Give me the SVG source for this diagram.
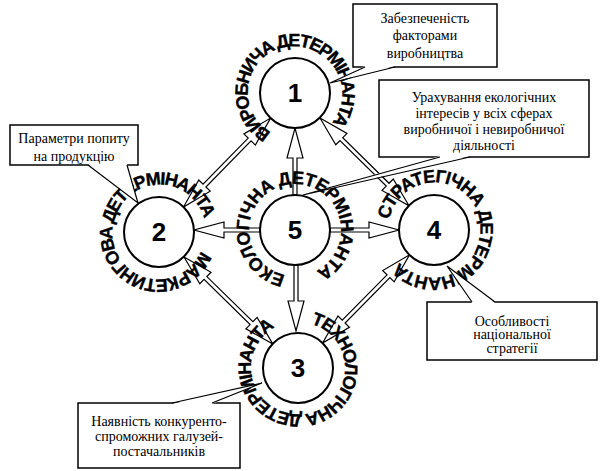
<svg xmlns="http://www.w3.org/2000/svg" width="600" height="471" viewBox="0 0 600 471">
<style>
.ar{fill:#fff;stroke:#000;stroke-width:1.2;stroke-linejoin:miter}
.c{fill:#fff;stroke:#000;stroke-width:2}
.n{font-family:"Liberation Sans",Arial,sans-serif;font-weight:bold;font-size:26px;text-anchor:middle}
.ct{font-family:"Liberation Sans",Arial,sans-serif;font-weight:bold;font-size:18px;stroke:#000;stroke-width:0.4}
.box{fill:#fff;stroke:#000;stroke-width:1.5}
.wf{fill:#fff;stroke:none}
.wl{fill:none;stroke:#000;stroke-width:1.2}
.bt{font-family:"Liberation Serif","Times New Roman",serif;font-size:14px;text-anchor:middle}
</style>
<defs>
<path id="p1" d="M271.3,132.4 A46,46 0 1 1 318.7,53.6 A46,46 0 1 1 271.3,132.4"/>
<path id="p2" d="M201,250.7 A46,46 0 1 1 117,213.3 A46,46 0 1 1 201,250.7"/>
<path id="p5" d="M285.4,275 A46,46 0 1 1 304.6,185 A46,46 0 1 1 285.4,275"/>
<path id="p4" d="M389.2,219.7 A46,46 0 1 1 478.8,240.3 A46,46 0 1 1 389.2,219.7"/>
<path id="p3" d="M310.7,323.8 A46,46 0 1 1 285.3,412.2 A46,46 0 1 1 310.7,323.8"/>
</defs>
<g id="connectors">
<polygon class="ar" transform="translate(183.5,207) rotate(-45.6)" points="0,0 30,-8 30,-2 94.5,-2 94.5,-8 124.5,0 94.5,8 94.5,2 30,2 30,8"/>
<polygon class="ar" transform="translate(320,118) rotate(44.6)" points="0,0 30,-8 30,-2 95,-2 95,-8 125,0 95,8 95,2 30,2 30,8"/>
<polygon class="ar" transform="translate(184,257) rotate(44.4)" points="0,0 30,-8 30,-2 94.5,-2 94.5,-8 124.5,0 94.5,8 94.5,2 30,2 30,8"/>
<polygon class="ar" transform="translate(322.6,343) rotate(-45.4)" points="0,0 30,-8 30,-2 93.8,-2 93.8,-8 123.8,0 93.8,8 93.8,2 30,2 30,8"/>
<polygon class="ar" transform="translate(260,230) rotate(180)" points="0,-2 36,-2 36,-8 66,0 36,8 36,2 0,2"/>
<polygon class="ar" transform="translate(330,230)" points="0,-2 39,-2 39,-8 69,0 39,8 39,2 0,2"/>
<polygon class="ar" transform="translate(295,195) rotate(-90)" points="0,-2 37,-2 37,-8 67,0 37,8 37,2 0,2"/>
<polygon class="ar" transform="translate(296,265) rotate(90)" points="0,-2 36,-2 36,-8 66,0 36,8 36,2 0,2"/>
</g>
<g id="node1"><circle class="c" cx="295" cy="93" r="35"/><text class="n" x="295" y="102">1</text>
<text class="ct"><textPath href="#p1" textLength="227" lengthAdjust="spacing">ВИРОБНИЧА ДЕТЕРМІНАНТА</textPath></text></g>
<g id="node2"><circle class="c" cx="159" cy="232" r="35"/><text class="n" x="159" y="241">2</text>
<text class="ct"><textPath href="#p2" textLength="262" lengthAdjust="spacing">МАРКЕТИНГОВА ДЕТЕРМІНАНТА</textPath></text></g>
<g id="node5"><circle class="c" cx="295" cy="230" r="35"/><text class="n" x="295" y="239">5</text>
<text class="ct"><textPath href="#p5" textLength="257" lengthAdjust="spacing">ЕКОЛОГІЧНА ДЕТЕРМІНАНТА</textPath></text></g>
<g id="node4"><circle class="c" cx="434" cy="230" r="35"/><text class="n" x="434" y="239">4</text>
<text class="ct"><textPath href="#p4" textLength="250" lengthAdjust="spacing">СТРАТЕГІЧНА ДЕТЕРМІНАНТА</textPath></text></g>
<g id="node3"><circle class="c" cx="298" cy="368" r="35"/><text class="n" x="298" y="377">3</text>
<text class="ct"><textPath href="#p3" textLength="256" lengthAdjust="spacing">ТЕХНОЛОГІЧНА ДЕТЕРМІНАНТА</textPath></text></g>
<g id="note1"><rect class="box" x="353" y="4" width="144" height="63"/>
<polygon class="wf" points="365,66 330,83 395,66"/><polyline class="wl" points="365,67 330,83 395,67"/>
<text class="bt" x="425" y="23">Забезпеченість</text><text class="bt" x="425" y="40">факторами</text><text class="bt" x="425" y="58">виробництва</text></g>
<g id="note5"><rect class="box" x="379" y="80" width="210" height="77"/>
<polygon class="wf" points="440,156 303,195 470,156"/><polyline class="wl" points="440,157 303,195 470,157"/>
<text class="bt" x="484" y="102">Урахування екологічних</text><text class="bt" x="484" y="118">інтересів у всіх сферах</text><text class="bt" x="484" y="134">виробничої і невиробничої</text><text class="bt" x="484" y="150">діяльності</text></g>
<g id="note2"><rect class="box" x="10" y="125" width="128" height="40"/>
<polygon class="wf" points="88,164 138,203 127,164"/><polyline class="wl" points="88,165 138,203 127,165"/>
<text class="bt" x="74" y="143">Параметри попиту</text><text class="bt" x="74" y="161">на продукцію</text></g>
<g id="note4"><rect class="box" x="427" y="302" width="170" height="58"/>
<polygon class="wf" points="472,303 447,266 495,303"/><polyline class="wl" points="472,302 447,266 495,302"/>
<text class="bt" x="512" y="326">Особливості</text><text class="bt" x="512" y="339">національної</text><text class="bt" x="512" y="353">стратегії</text></g>
<g id="note3"><rect class="box" x="78" y="403" width="162" height="65"/>
<polygon class="wf" points="172,404 262,383 212,404"/><polyline class="wl" points="172,403 262,383 212,403"/>
<text class="bt" x="159" y="426">Наявність конкуренто-</text><text class="bt" x="159" y="441">спроможних галузей-</text><text class="bt" x="159" y="456">постачальників</text></g>
</svg>
